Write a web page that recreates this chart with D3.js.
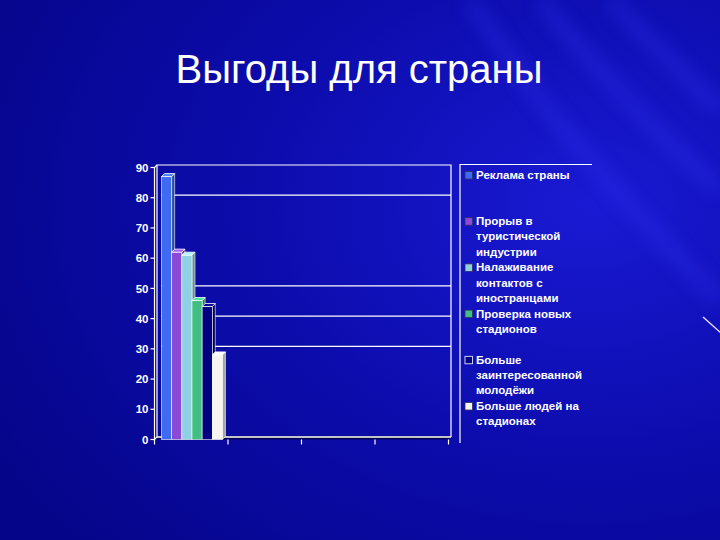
<!DOCTYPE html>
<html>
<head>
<meta charset="utf-8">
<script src="https://cdn.jsdelivr.net/npm/d3@7"></script>
<style>
  body { margin: 0; background: #0a0a90; }
  svg { display: block; font-family: "Liberation Sans", Arial, sans-serif; }
</style>
</head>
<body>
<svg id="chart" width="720" height="540"></svg>
<script>
// Data
const title = 'Выгоды для страны';
const categories = ['1', '2', '3', '4'];
const seriesNames = [
    'Реклама страны',
    'Прорыв в туристической индустрии',
    'Налаживание контактов с иностранцами',
    'Проверка новых стадионов',
    'Больше заинтересованной молодёжи',
    'Больше людей на стадионах'
];
const seriesValues = [87, 62, 61, 46, 44, 28]; // all in the first category
const seriesColors = ['#3d6cf2', '#8a4ad6', '#8fd0e2', '#3fbf82', '#000080', '#f6f6ee'];
const yTicks = [0, 10, 20, 30, 40, 50, 60, 70, 80, 90];
const gridValues = [30, 40, 50, 80];

// Layout
const WALL = { left: 157, right: 451, top: 165, bottom: 437 };
const FRONT = { dx: -2.5, dy: 2.5 };
const DEPTH = { dx: 3, dy: 3 };

const svg = d3.select('#chart');
const defs = svg.append('defs');

// Background
const bg = defs.append('radialGradient').attr('id', 'bg')
    .attr('cx', 0.82).attr('cy', 0.38).attr('r', 0.95);
bg.append('stop').attr('offset', 0).attr('stop-color', '#1a1ad4');
bg.append('stop').attr('offset', 0.5).attr('stop-color', '#0c0cac');
bg.append('stop').attr('offset', 1).attr('stop-color', '#05058a');
svg.append('rect').attr('width', 720).attr('height', 540).attr('fill', 'url(#bg)');

defs.append('filter').attr('id', 'blur')
    .append('feGaussianBlur').attr('stdDeviation', 8);
const streaks = [
    'M540,0 Q630,110 720,190',
    'M610,0 Q680,70 720,110',
    'M470,0 Q560,140 720,300'
];
svg.append('g').selectAll('path').data(streaks).enter().append('path')
    .attr('d', d => d)
    .attr('fill', 'none')
    .attr('stroke', '#3c3cff')
    .attr('stroke-width', 18)
    .attr('opacity', 0.22)
    .attr('filter', 'url(#blur)');
svg.append('line')
    .attr('x1', 703).attr('y1', 317).attr('x2', 722).attr('y2', 334)
    .attr('stroke', '#e8e0ff').attr('stroke-width', 1.3);

// Title
svg.append('text')
    .attr('x', 359).attr('y', 83)
    .attr('text-anchor', 'middle')
    .attr('fill', '#ffffff')
    .style('font-size', '40px')
    .text(title);

// Scales
const y = d3.scaleLinear().domain([0, 90]).range([WALL.bottom, WALL.top]);
const x0 = d3.scaleBand().domain(categories).range([WALL.left, WALL.right]).padding(0);
const x1 = d3.scaleBand().domain(seriesNames).range([0, x0.bandwidth()])
    .paddingInner(0).paddingOuter(0.62).align(0.36);

const plot = svg.append('g');

// Floor
plot.append('polygon')
    .attr('points', [
        [WALL.left + FRONT.dx, WALL.bottom + FRONT.dy], [WALL.left, WALL.bottom],
        [WALL.right, WALL.bottom], [WALL.right + FRONT.dx, WALL.bottom + FRONT.dy]
    ].join(' '))
    .attr('fill', '#000058');
plot.append('line')
    .attr('x1', WALL.left).attr('x2', WALL.right)
    .attr('y1', WALL.bottom).attr('y2', WALL.bottom)
    .attr('stroke', '#c4c4c8').attr('stroke-width', 2);

// Back walls
plot.append('polyline')
    .attr('points', [[WALL.left, WALL.bottom], [WALL.left, WALL.top], [WALL.right, WALL.top], [WALL.right, WALL.bottom]].join(' '))
    .attr('fill', 'none').attr('stroke', '#ffffff').attr('stroke-width', 1.2);
plot.append('polyline')
    .attr('points', [
        [WALL.left, WALL.top], [WALL.left + FRONT.dx, WALL.top + FRONT.dy],
        [WALL.left + FRONT.dx, WALL.bottom + FRONT.dy], [WALL.left, WALL.bottom]
    ].join(' '))
    .attr('fill', 'none').attr('stroke', '#ffffff').attr('stroke-width', 1.2);

// Gridlines
const barStart = x0(categories[0]) + x1(seriesNames[0]);
plot.append('g').selectAll('line').data(gridValues).enter().append('line')
    .attr('x1', barStart).attr('x2', WALL.right)
    .attr('y1', d => y(d)).attr('y2', d => y(d))
    .attr('stroke', '#ffffff').attr('stroke-width', 1.2);

// Y axis (front plane)
const yAxis = svg.append('g');
yAxis.selectAll('line').data(yTicks).enter().append('line')
    .attr('x1', WALL.left + FRONT.dx - 4).attr('x2', WALL.left + FRONT.dx)
    .attr('y1', d => y(d) + FRONT.dy).attr('y2', d => y(d) + FRONT.dy)
    .attr('stroke', '#ffffff').attr('stroke-width', 1.2);
yAxis.selectAll('text').data(yTicks).enter().append('text')
    .attr('x', WALL.left + FRONT.dx - 6)
    .attr('y', d => y(d) + FRONT.dy)
    .attr('dy', '0.36em')
    .attr('text-anchor', 'end')
    .attr('fill', '#ffffff')
    .style('font-size', '11.5px').style('font-weight', 'bold')
    .text(d => d);

// X axis ticks at category boundaries
const xBounds = categories.map(c => x0(c)).concat([WALL.right]);
svg.append('g').selectAll('line').data(xBounds).enter().append('line')
    .attr('x1', d => d + FRONT.dx).attr('x2', d => d + FRONT.dx)
    .attr('y1', WALL.bottom + FRONT.dy).attr('y2', WALL.bottom + FRONT.dy + 5)
    .attr('stroke', '#ffffff').attr('stroke-width', 1.2);

// Bars (3D columns), drawn left to right so neighbours hide side faces
const bars = seriesNames.map((name, i) => ({ name, value: seriesValues[i], color: seriesColors[i], cat: categories[0] }));
const barBottom = WALL.bottom + FRONT.dy;
const bw = x1.bandwidth();
bars.forEach(d => {
    const bx = x0(d.cat) + x1(d.name);
    const yt = y(d.value) + FRONT.dy;
    const g = plot.append('g');
    const base = d3.color(d.color);
    g.append('polygon')
        .attr('points', [[bx + bw, yt], [bx + bw + DEPTH.dx, yt - DEPTH.dy], [bx + bw + DEPTH.dx, barBottom - DEPTH.dy], [bx + bw, barBottom]].join(' '))
        .attr('fill', base.darker(1.1)).attr('stroke', '#ffffff').attr('stroke-width', 0.6);
    g.append('rect')
        .attr('x', bx).attr('y', yt).attr('width', bw).attr('height', barBottom - yt)
        .attr('fill', d.color).attr('stroke', '#ffffff').attr('stroke-width', 0.6);
    g.append('polygon')
        .attr('points', [[bx, yt], [bx + DEPTH.dx, yt - DEPTH.dy], [bx + bw + DEPTH.dx, yt - DEPTH.dy], [bx + bw, yt]].join(' '))
        .attr('fill', base.brighter(0.5)).attr('stroke', '#ffffff').attr('stroke-width', 0.8);
});

// Legend
const LEG = { x: 460, top: 164.5, bottom: 443, right: 592, first: 179, slot: 46.2, line: 15.2, maxWidth: 116 };
const legend = svg.append('g');
legend.append('polyline')
    .attr('points', [[LEG.right, LEG.top], [LEG.x, LEG.top], [LEG.x, LEG.bottom]].join(' '))
    .attr('fill', 'none').attr('stroke', '#ffffff').attr('stroke-width', 1.2);

const items = legend.selectAll('g.item').data(bars).enter().append('g')
    .attr('class', 'item')
    .attr('transform', (d, i) => `translate(${LEG.x}, ${LEG.first + i * LEG.slot})`);
items.append('rect')
    .attr('x', 5).attr('y', -7.5).attr('width', 7.5).attr('height', 7.5)
    .attr('fill', d => d.color)
    .attr('stroke', d => d.color === '#000080' ? '#ffffff' : '#303060')
    .attr('stroke-width', 0.8);
items.append('text')
    .attr('x', 16).attr('y', 0)
    .attr('fill', '#ffffff')
    .style('font-size', '11.5px').style('font-weight', 'bold')
    .each(function (d) {
        const text = d3.select(this);
        const words = d.name.split(/\s+/);
        let line = [];
        let tspan = text.append('tspan').attr('x', 16).attr('dy', 0);
        words.forEach(w => {
            line.push(w);
            tspan.text(line.join(' '));
            if (tspan.node().getComputedTextLength() > LEG.maxWidth && line.length > 1) {
                line.pop();
                tspan.text(line.join(' '));
                line = [w];
                tspan = text.append('tspan').attr('x', 16).attr('dy', LEG.line).text(w);
            }
        });
    });
</script>
</body>
</html>
